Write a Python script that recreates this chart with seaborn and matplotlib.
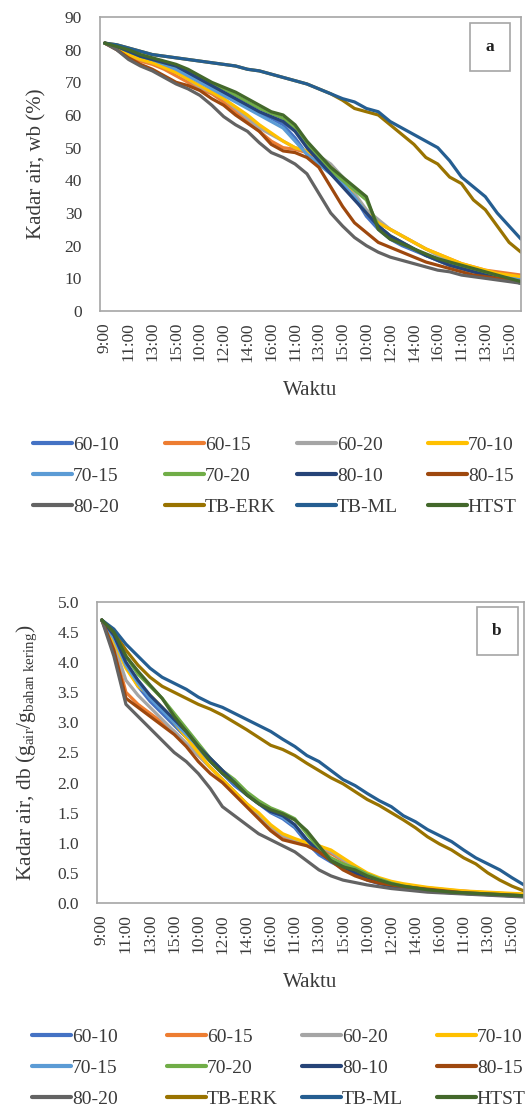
import numpy as np
import pandas as pd
import matplotlib
matplotlib.use("Agg")
import matplotlib.pyplot as plt
import seaborn as sb
from matplotlib.lines import Line2D

sb.set_style("white")
plt.rcParams['font.family'] = ['Liberation Serif', 'DejaVu Serif']
plt.rcParams['mathtext.fontset'] = 'custom'
plt.rcParams['mathtext.rm'] = 'Liberation Serif'
plt.rcParams['mathtext.it'] = 'Liberation Serif:italic'

# time axis (5 days, hourly)
waktu = ['9:00', '10:00', '11:00', '12:00', '13:00', '14:00', '15:00', '16:00',
         '10:00', '11:00', '12:00', '13:00', '14:00', '15:00', '16:00',
         '10:00', '11:00', '12:00', '13:00', '14:00', '15:00', '16:00',
         '10:00', '11:00', '12:00', '13:00', '14:00', '15:00', '16:00',
         '10:00', '11:00', '12:00', '13:00', '14:00', '15:00', '16:00']

series = ['60-10', '60-15', '60-20', '70-10', '70-15', '70-20',
          '80-10', '80-15', '80-20', 'TB-ERK', 'TB-ML', 'HTST']
colors = ['#4472C4', '#ED7D31', '#A5A5A5', '#FFC000', '#5B9BD5', '#70AD47',
          '#264478', '#9E480E', '#636363', '#997300', '#255E91', '#43682B']

# kadar air wet basis (%)
wb_6010 = [82, 81, 79.5, 78, 77, 76, 74.5, 72.5, 70.5, 68.5, 66.5, 64.5, 62.5, 60.5, 59, 57, 53, 48,
           45, 42, 39, 35, 29, 25, 22, 20, 18.5, 17, 15.5, 14, 13, 12, 11, 10, 9.5, 9]
wb_6015 = [82, 80.5, 78, 76.5, 75.5, 74, 72, 70, 68, 66.5, 64, 61, 58, 55, 52, 50, 49.5, 48.5,
           47, 44, 40, 35, 30, 27, 25, 23, 21, 19, 17.5, 16, 14.5, 13.5, 12.5, 12, 11.5, 11]
wb_6020 = [82, 80.5, 78.5, 77, 76, 75, 73.5, 71, 68.5, 67, 65, 62, 59, 56, 54, 52, 50, 49,
           47.5, 45, 41, 36, 31, 28, 25, 23, 21, 19, 17, 15.5, 14, 13, 12, 11, 10.5, 10]
wb_7010 = [82, 80.5, 78.5, 77, 76, 74.5, 73, 71, 69, 67, 65, 62.5, 60, 57, 54.5, 52, 50, 49,
           47, 44, 40, 35, 30, 27, 25, 23, 21, 19, 17.5, 16, 14.5, 13.5, 12.5, 11.5, 11, 10.5]
wb_7015 = [82, 81, 79.5, 78, 77, 75.5, 74, 72, 70, 68, 66, 64, 62, 60, 58, 56, 52, 48,
           45, 42, 39, 35, 30, 26, 23, 21, 19, 17, 15.5, 14, 13, 12, 11, 10.5, 10, 9.5]
wb_7020 = [82, 81, 79.5, 78, 77, 76, 75, 73.5, 71.5, 69.5, 68, 66, 64, 62, 60.5, 59, 56, 51,
           47, 43, 40, 37, 34, 26, 23, 21, 19, 17, 16, 14.5, 13.5, 12.5, 11.5, 10.5, 9.5, 8.5]
wb_8010 = [82, 81, 79.5, 78, 77, 76, 75, 73, 71, 69, 67, 65, 63, 61, 59.5, 58, 55, 50,
           46, 42, 38, 34, 30, 26, 23, 21, 19, 17, 15.5, 14, 13, 12, 11, 10, 9.5, 8.5]
wb_8015 = [82, 80, 77.5, 75.5, 74, 72, 70, 69, 67.5, 65, 63, 60, 57.5, 55, 51, 49, 48.5, 47,
           44, 38, 32, 27, 24, 21, 19.5, 18, 16.5, 15, 14, 13, 12, 11, 10.5, 10, 9.5, 9]
wb_8020 = [82, 80, 77, 75, 73.5, 71.5, 69.5, 68, 66, 63, 59.5, 57, 55, 51.5, 48.5, 47, 45, 42,
           36, 30, 26, 22.5, 20, 18, 16.5, 15.5, 14.5, 13.5, 12.5, 12, 11, 10.5, 10, 9.5, 9, 8.5]
wb_tberk = [82, 81.5, 80.5, 79.5, 78.5, 78, 77.5, 77, 76.5, 76, 75.5, 75, 74, 73.5, 72.5, 71.5, 70.5, 69.5,
            68, 66.5, 64.5, 62, 61, 60, 57, 54, 51, 47, 45, 41, 39, 34, 31, 26, 21, 18]
wb_tbml = [82, 81.5, 80.5, 79.5, 78.5, 78, 77.5, 77, 76.5, 76, 75.5, 75, 74, 73.5, 72.5, 71.5, 70.5, 69.5,
           68, 66.5, 65, 64, 62, 61, 58, 56, 54, 52, 50, 46, 41, 38, 35, 30, 26, 22]
wb_htst = [82, 81, 80, 78.5, 77.5, 76.5, 75.5, 74, 72, 70, 68.5, 67, 65, 63, 61, 60, 57, 52,
           48, 44, 41, 38, 35, 25, 22, 20.5, 19, 17.5, 16, 15, 14, 13, 12, 11, 10, 9]

# kadar air dry basis (g air / g bahan kering)
db_6010 = [4.7, 4.4, 3.95, 3.6, 3.35, 3.15, 2.95, 2.75, 2.55, 2.35, 2.15, 1.95, 1.8, 1.65, 1.5, 1.4, 1.25, 1.0,
           0.8, 0.68, 0.58, 0.48, 0.38, 0.32, 0.28, 0.25, 0.23, 0.21, 0.19, 0.17, 0.16, 0.15, 0.14, 0.13, 0.12, 0.11]
db_6015 = [4.7, 4.25, 3.5, 3.3, 3.15, 3.0, 2.85, 2.65, 2.45, 2.25, 2.05, 1.85, 1.65, 1.45, 1.25, 1.1, 1.02, 0.98,
           0.9, 0.82, 0.7, 0.55, 0.45, 0.38, 0.33, 0.3, 0.27, 0.25, 0.23, 0.21, 0.2, 0.18, 0.17, 0.16, 0.15, 0.14]
db_6020 = [4.7, 4.3, 3.7, 3.45, 3.25, 3.05, 2.85, 2.65, 2.45, 2.25, 2.05, 1.85, 1.65, 1.45, 1.28, 1.12, 1.05, 1.0,
           0.95, 0.85, 0.72, 0.6, 0.48, 0.4, 0.34, 0.3, 0.27, 0.25, 0.23, 0.21, 0.19, 0.18, 0.17, 0.16, 0.15, 0.14]
db_7010 = [4.7, 4.35, 3.9, 3.6, 3.45, 3.25, 3.0, 2.75, 2.5, 2.25, 2.05, 1.85, 1.65, 1.5, 1.3, 1.15, 1.07, 1.0,
           0.95, 0.88, 0.75, 0.62, 0.5, 0.42, 0.36, 0.32, 0.29, 0.26, 0.24, 0.22, 0.2, 0.19, 0.18, 0.17, 0.16, 0.15]
db_7015 = [4.7, 4.4, 3.95, 3.65, 3.4, 3.2, 3.0, 2.8, 2.6, 2.4, 2.2, 2.0, 1.82, 1.68, 1.52, 1.42, 1.28, 1.05,
           0.85, 0.7, 0.6, 0.5, 0.4, 0.33, 0.29, 0.26, 0.23, 0.21, 0.19, 0.18, 0.16, 0.15, 0.14, 0.13, 0.12, 0.11]
db_7020 = [4.7, 4.5, 4.1, 3.8, 3.6, 3.4, 3.15, 2.9, 2.65, 2.4, 2.2, 2.05, 1.85, 1.7, 1.58, 1.5, 1.4, 1.15,
           0.9, 0.75, 0.65, 0.58, 0.48, 0.4, 0.33, 0.28, 0.25, 0.22, 0.2, 0.18, 0.17, 0.16, 0.15, 0.14, 0.13, 0.12]
db_8010 = [4.7, 4.45, 4.0, 3.7, 3.45, 3.25, 3.05, 2.85, 2.6, 2.4, 2.2, 2.0, 1.8, 1.65, 1.52, 1.45, 1.3, 1.05,
           0.85, 0.7, 0.6, 0.5, 0.4, 0.33, 0.28, 0.25, 0.22, 0.2, 0.18, 0.17, 0.16, 0.15, 0.14, 0.13, 0.12, 0.11]
db_8015 = [4.7, 4.2, 3.4, 3.25, 3.1, 2.95, 2.8, 2.6, 2.35, 2.15, 2.0, 1.8, 1.6, 1.4, 1.2, 1.05, 1.0, 0.95,
           0.85, 0.7, 0.55, 0.45, 0.38, 0.33, 0.3, 0.27, 0.25, 0.23, 0.21, 0.19, 0.17, 0.16, 0.15, 0.14, 0.13, 0.12]
db_8020 = [4.7, 4.1, 3.3, 3.1, 2.9, 2.7, 2.5, 2.35, 2.15, 1.9, 1.6, 1.45, 1.3, 1.15, 1.05, 0.95, 0.85, 0.7,
           0.55, 0.45, 0.38, 0.34, 0.3, 0.27, 0.24, 0.22, 0.2, 0.18, 0.17, 0.16, 0.15, 0.14, 0.13, 0.12, 0.11, 0.1]
db_tberk = [4.7, 4.5, 4.2, 3.95, 3.75, 3.6, 3.5, 3.4, 3.3, 3.22, 3.12, 3.0, 2.88, 2.75, 2.62, 2.55, 2.45, 2.32,
            2.2, 2.08, 1.98, 1.85, 1.72, 1.62, 1.5, 1.38, 1.25, 1.1, 0.98, 0.88, 0.75, 0.65, 0.5, 0.38, 0.28, 0.2]
db_tbml = [4.7, 4.55, 4.3, 4.1, 3.9, 3.75, 3.65, 3.55, 3.42, 3.32, 3.25, 3.15, 3.05, 2.95, 2.85, 2.72, 2.6, 2.45,
           2.35, 2.2, 2.05, 1.95, 1.82, 1.7, 1.6, 1.45, 1.35, 1.22, 1.12, 1.02, 0.88, 0.75, 0.65, 0.55, 0.42, 0.3]
db_htst = [4.7, 4.5, 4.1, 3.85, 3.62, 3.4, 3.1, 2.85, 2.6, 2.35, 2.15, 2.0, 1.8, 1.65, 1.55, 1.48, 1.38, 1.2,
           0.95, 0.7, 0.6, 0.55, 0.45, 0.38, 0.32, 0.28, 0.25, 0.22, 0.2, 0.18, 0.17, 0.16, 0.15, 0.14, 0.13, 0.12]

wb_all = [wb_6010, wb_6015, wb_6020, wb_7010, wb_7015, wb_7020,
          wb_8010, wb_8015, wb_8020, wb_tberk, wb_tbml, wb_htst]
db_all = [db_6010, db_6015, db_6020, db_7010, db_7015, db_7020,
          db_8010, db_8015, db_8020, db_tberk, db_tbml, db_htst]


def long_df(vals):
    rows = []
    for name, v in zip(series, vals):
        for i, y in enumerate(v):
            rows.append((i, y, name))
    return pd.DataFrame(rows, columns=['idx', 'val', 'series'])


txt = '#3a3a3a'
grid_c = '#A6A6A6'
pal = dict(zip(series, colors))
W, H = 527, 1110

fig = plt.figure(figsize=(W / 100, H / 100), dpi=100)
ax1 = fig.add_axes([100 / W, 1 - 311 / H, 421 / W, 294 / H])
ax2 = fig.add_axes([97 / W, 1 - 903 / H, 427 / W, 301 / H])

panels = [(ax1, wb_all, 'a', 'Kadar air, wb (%)', (0, 90), np.arange(0, 91, 10), '%d', (0.926, 0.898), 15),
          (ax2, db_all, 'b', r'Kadar air, db (g$_{\mathrm{air}}$/g$_{\mathrm{bahan\ kering}}$)',
           (0, 5), np.arange(0, 5.01, 0.5), '%.1f', (0.937, 0.904), 15.5)]

for ax, vals, tag, ylab, ylim, yt, fmt, tagpos, yfs in panels:
    df = long_df(vals)
    sb.lineplot(data=df, x='idx', y='val', hue='series', hue_order=series,
                palette=pal, linewidth=2.3, ax=ax, legend=False)
    ax.set_xlim(-0.4, 35)
    ax.set_ylim(*ylim)
    ax.set_yticks(yt)
    ax.set_yticklabels([fmt % t for t in yt], fontsize=12.5, color=txt)
    ax.set_xticks(range(len(waktu)))
    ax.set_xticklabels([w if i % 2 == 0 else '' for i, w in enumerate(waktu)],
                       rotation=90, fontsize=12.5, color=txt)
    ax.tick_params(axis='both', direction='out', length=5, width=0.8, color=grid_c)
    ax.tick_params(axis='y', pad=8)
    ax.tick_params(axis='x', pad=3)
    for s in ax.spines.values():
        s.set_color(grid_c)
        s.set_linewidth(1.2)
    ax.set_xlabel('Waktu', fontsize=15, color=txt, labelpad=14)
    ax.set_ylabel(ylab, fontsize=yfs, color=txt, labelpad=13)
    ax.text(tagpos[0], tagpos[1], tag, transform=ax.transAxes, ha='center', va='center',
            fontsize=12.5, fontweight='bold', color='#202020',
            bbox=dict(boxstyle='square,pad=0.9', fc='white', ec=grid_c, lw=1.2))

# legend laid out as a 3 x 4 grid (row-major, like the original)
handles = [Line2D([], [], color=c, lw=3) for c in colors]
leg_x = {0.5712: [33, 165, 297, 428], 0.0378: [32, 167, 302, 437]}
for yc, xs in leg_x.items():
    for col, x in enumerate(xs):
        idx = [r * 4 + col for r in range(3)]
        fig.legend([handles[i] for i in idx], [series[i] for i in idx],
                   loc='center left', bbox_to_anchor=(x / W, yc), ncol=1, frameon=False,
                   fontsize=14, handlelength=2.0, handletextpad=0.05,
                   labelspacing=0.7, borderpad=0, borderaxespad=0, labelcolor=txt)

fig.savefig('out.png', dpi=100, facecolor='white')
